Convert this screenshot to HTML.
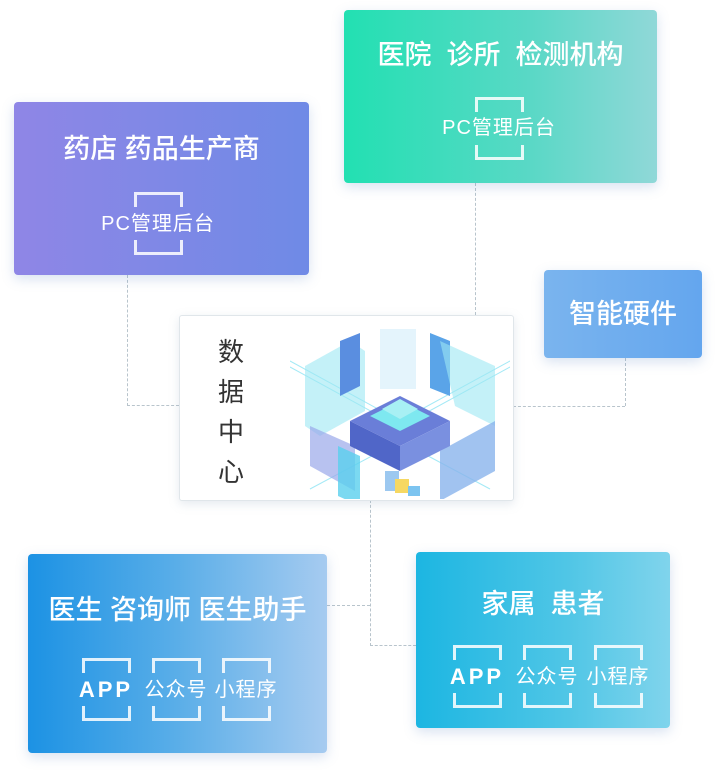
<!DOCTYPE html>
<html><head><meta charset="utf-8"><style>
body{margin:0;width:716px;height:772px;background:#fff;position:relative;overflow:hidden;font-family:"Liberation Sans","Noto Sans CJK SC",sans-serif}
.c{position:absolute;border-radius:4px;color:#fff;box-shadow:0 4px 12px rgba(100,140,200,.25)}
.t{position:absolute;left:0;right:0;text-align:center;font-size:27px;line-height:32px;white-space:nowrap;font-weight:500}
.b{position:absolute;width:49px;height:63px}
.b:before,.b:after{content:"";position:absolute;left:0;right:0;height:12px;border:3px solid rgba(255,255,255,.85)}
.b:before{top:0;border-bottom:none}
.b:after{bottom:0;border-top:none}
.bt{position:absolute;font-size:20px;line-height:24px;white-space:nowrap;text-align:center;transform:translateX(-50%);letter-spacing:1px}
.ap{font-weight:bold;font-size:22px;letter-spacing:3px}
.l{position:absolute;border:0 dashed #b8c4cc}
</style></head><body>
<div class="l" style="left:127px;top:275px;height:131px;border-left-width:1px"></div>
<div class="l" style="left:127px;top:405px;width:52px;border-top-width:1px"></div>
<div class="l" style="left:475px;top:183px;height:132px;border-left-width:1px"></div>
<div class="l" style="left:625px;top:358px;height:48px;border-left-width:1px"></div>
<div class="l" style="left:513px;top:406px;width:112px;border-top-width:1px"></div>
<div class="l" style="left:370px;top:500px;height:146px;border-left-width:1px"></div>
<div class="l" style="left:327px;top:605px;width:43px;border-top-width:1px"></div>
<div class="l" style="left:370px;top:645px;width:46px;border-top-width:1px"></div>

<div class="c" style="left:14px;top:102px;width:295px;height:173px;background:linear-gradient(90deg,#8f86e6,#6f8ae6)">
<div class="t" style="top:31px">药店 药品生产商</div>
<div class="b" style="left:120px;top:90px"></div>
<div class="bt" style="left:144px;top:110px">PC管理后台</div>
</div>
<div class="c" style="left:344px;top:10px;width:313px;height:173px;background:linear-gradient(90deg,#22e0b2,#5ad8c6 60%,#90d8d8)">
<div class="t" style="top:29px">医院&nbsp; 诊所&nbsp; 检测机构</div>
<div class="b" style="left:131px;top:87px"></div>
<div class="bt" style="left:155px;top:106px">PC管理后台</div>
</div>
<div class="c" style="left:544px;top:270px;width:158px;height:88px;background:linear-gradient(90deg,#7ab4ee,#64a6ee)">
<div class="t" style="top:28px">智能硬件</div>
</div>
<div class="c" style="left:28px;top:554px;width:299px;height:199px;background:linear-gradient(90deg,#1c92e4,#5aaee8 50%,#a6cbf0)">
<div class="t" style="top:40px">医生 咨询师 医生助手</div>
<div class="b" style="left:54px;top:104px"></div><div class="bt ap" style="left:78px;top:124px">APP</div>
<div class="b" style="left:124px;top:104px"></div><div class="bt" style="left:148px;top:124px">公众号</div>
<div class="b" style="left:194px;top:104px"></div><div class="bt" style="left:218px;top:124px">小程序</div>
</div>
<div class="c" style="left:416px;top:552px;width:254px;height:176px;background:linear-gradient(90deg,#1cb6e2,#50c6e6 60%,#80d4ec)">
<div class="t" style="top:36px">家属&nbsp; 患者</div>
<div class="b" style="left:37px;top:93px"></div><div class="bt ap" style="left:61px;top:113px">APP</div>
<div class="b" style="left:107px;top:93px"></div><div class="bt" style="left:131px;top:113px">公众号</div>
<div class="b" style="left:178px;top:93px"></div><div class="bt" style="left:202px;top:113px">小程序</div>
</div>

<div style="position:absolute;left:179px;top:315px;width:333px;height:184px;background:#fff;border:1px solid #e0e6ea;border-radius:3px;box-shadow:0 3px 10px rgba(150,170,190,.25)">
<div style="position:absolute;left:38px;top:16px;width:28px;font-size:26px;line-height:40px;color:#333">数<br>据<br>中<br>心</div>
<svg style="position:absolute;left:110px;top:5px" width="220" height="178" viewBox="0 0 220 178">
<g stroke="#8ee4f4" stroke-width="1" opacity=".8"><line x1="0" y1="40" x2="110" y2="100"/><line x1="0" y1="46" x2="110" y2="106"/><line x1="220" y1="40" x2="110" y2="100"/><line x1="220" y1="46" x2="110" y2="106"/><line x1="20" y1="168" x2="110" y2="120"/><line x1="200" y1="168" x2="110" y2="120"/></g>
<polygon points="15,45 60,20 75,30 75,90 30,115 15,105" fill="#9ce8f4" opacity=".6"/>
<polygon points="50,20 70,12 70,65 50,75" fill="#5a8ee0"/>
<rect x="90" y="8" width="36" height="60" fill="#e4f4fc"/>
<polygon points="140,12 160,20 160,75 140,67" fill="#5aa4e8"/>
<polygon points="150,20 205,45 205,105 165,85" fill="#9ce8f4" opacity=".6"/>
<polygon points="20,105 65,125 65,170 20,145" fill="#9aa8ea" opacity=".7"/>
<polygon points="48,125 70,135 70,185 48,175" fill="#5ad0ee" opacity=".8"/>
<polygon points="150,130 205,100 205,150 150,180" fill="#8ab4ec" opacity=".8"/>
<polygon points="60,100 110,75 160,100 110,125" fill="#6a7ed8"/>
<polygon points="60,100 110,125 110,150 60,125" fill="#5066c8"/>
<polygon points="160,100 110,125 110,150 160,125" fill="#7a90e0"/>
<polygon points="80,95 110,80 140,95 110,110" fill="#7ee8f0"/>
<polygon points="92,88 110,78 128,88 110,98" fill="#a8f0f4"/>
<rect x="95" y="150" width="14" height="20" fill="#9cc8f0"/>
<rect x="105" y="158" width="14" height="14" fill="#f6d862"/>
<rect x="118" y="165" width="12" height="10" fill="#7cc4f0"/>
</svg>
</div>
</body></html>
